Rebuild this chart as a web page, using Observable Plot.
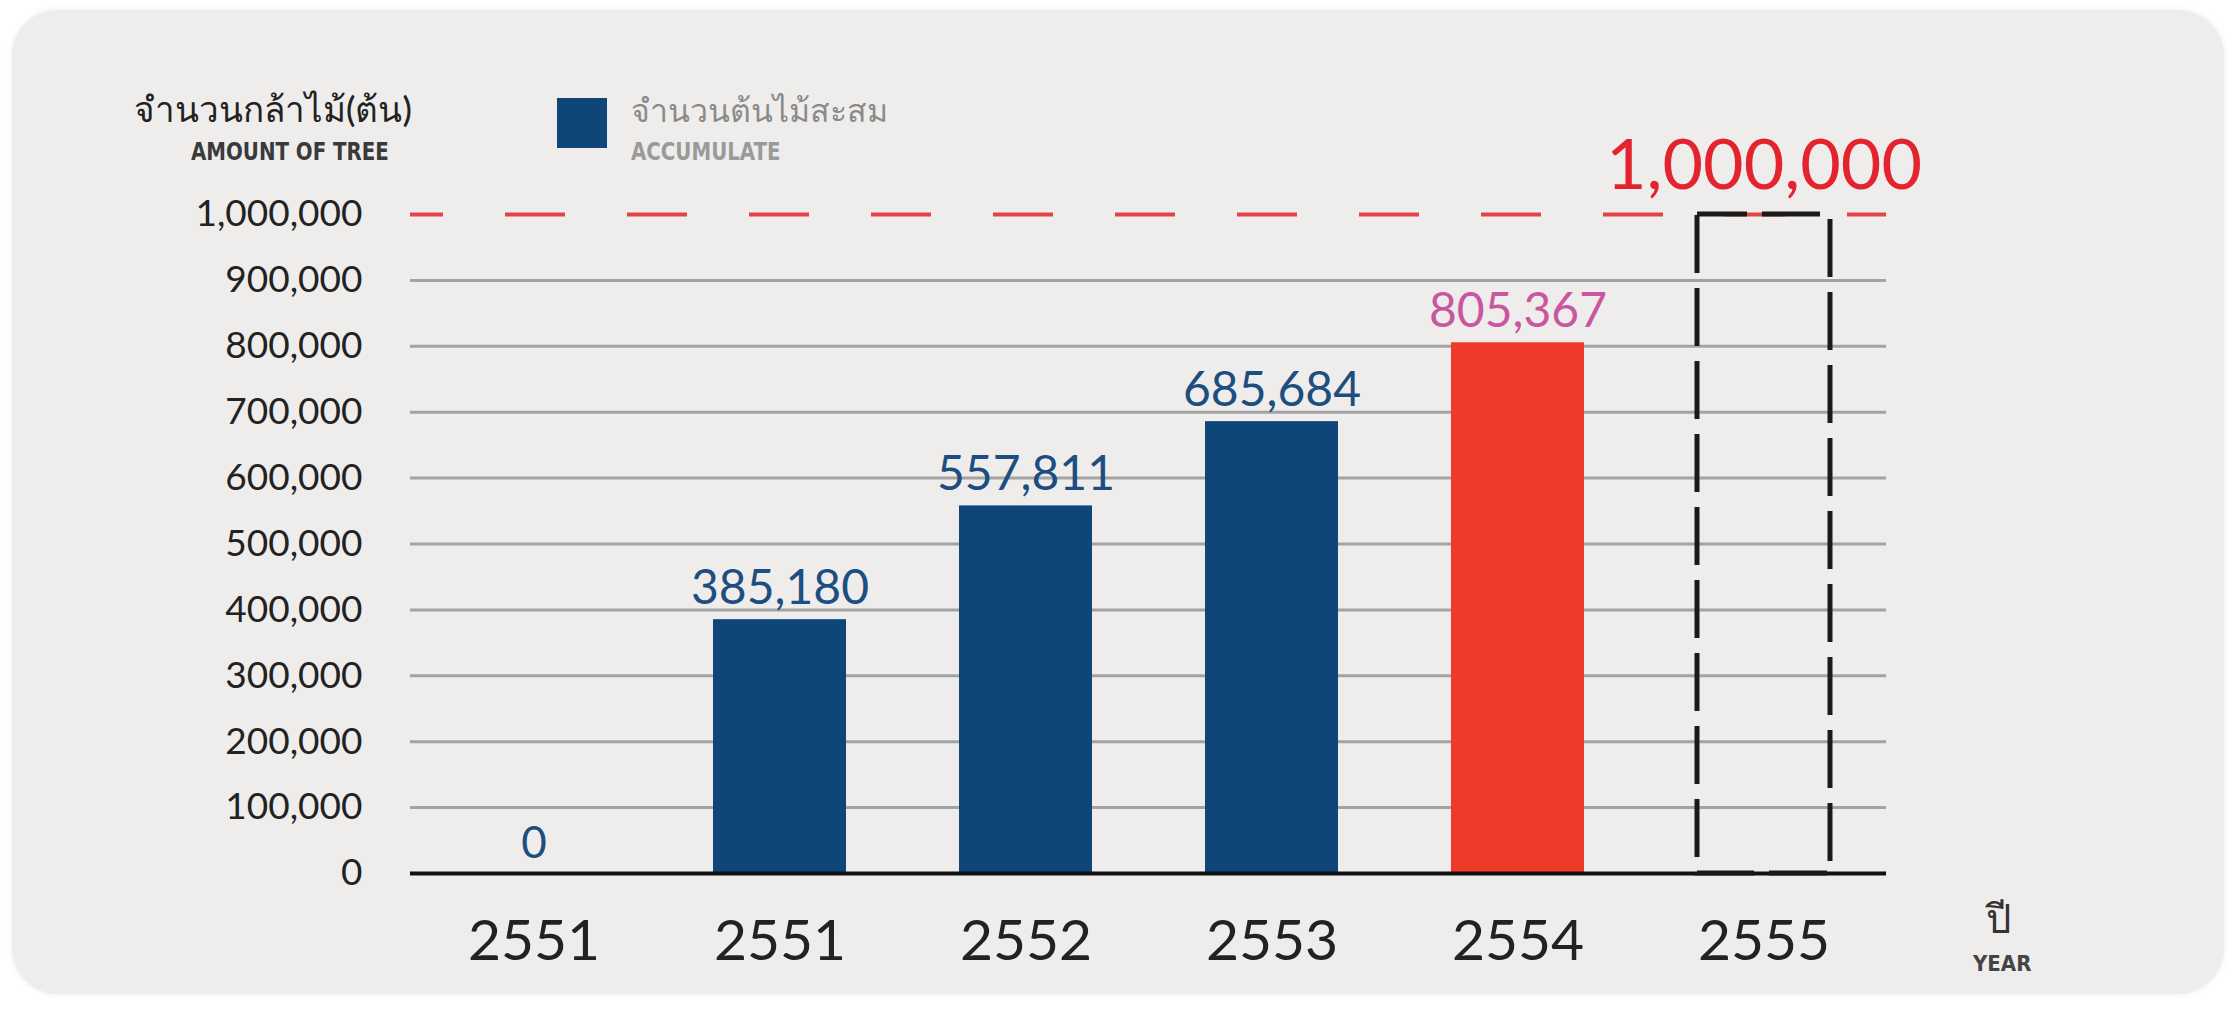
<!DOCTYPE html>
<html><head><meta charset="utf-8">
<script src="https://cdn.jsdelivr.net/npm/d3@7"></script>
<script src="https://cdn.jsdelivr.net/npm/@observablehq/plot@0.6"></script>
<style>
body{margin:0;background:#fff;width:2237px;height:1010px;overflow:hidden;position:relative;font-family:Lato,"Noto Sans",sans-serif;}
#panel{position:absolute;left:12px;top:10px;width:2212px;height:984px;background:#efedeb;border-radius:46px;box-shadow:0 0 6px rgba(0,0,0,0.08);}
#chart{position:absolute;left:0;top:0;}
.t{position:absolute;white-space:nowrap;line-height:1;}
.cond{font-family:"Liberation Sans Narrow","DejaVu Sans Condensed","Roboto",sans-serif;font-weight:bold;transform-origin:0 0;}
</style></head><body>
<div id="panel"></div>
<div id="chart"></div>
<div class="t" style="left:134px;top:91px;font-size:35px;color:#222;font-weight:500;">จำนวนกล้าไม้(ต้น)</div>
<div class="t cond" style="left:191px;top:139px;font-size:25px;color:#3a3a3a;transform:scaleX(0.88);">AMOUNT OF TREE</div>
<div class="t" style="left:557px;top:98px;width:50px;height:50px;background:#0e4679;"></div>
<div class="t" style="left:631px;top:94px;font-size:32px;color:#8a8a8a;">จำนวนต้นไม้สะสม</div>
<div class="t cond" style="left:631px;top:139px;font-size:25px;color:#9a9a9a;transform:scaleX(0.88);">ACCUMULATE</div>
<div class="t" style="left:1986px;top:898px;font-size:40px;color:#333;">ปี</div>
<div class="t cond" style="left:1973px;top:953px;font-size:22px;color:#444;">YEAR</div>
<script>
const yearLabels = ["2551", "2551", "2552", "2553", "2554", "2555"];
const values = [0, 385180, 557811, 685684, 805367, null];
const target = 1000000;
const targetLabel = "1,000,000";
const yTicks = [0, 100000, 200000, 300000, 400000, 500000, 600000, 700000, 800000, 900000, 1000000];
const highlightIndex = 4;
const targetIndex = 5;

const rows = yearLabels.map((label, i) => ({i, label, value: values[i]}));
const fmt = d3.format(",");
const navy = "#0e4679", red = "#ef3a2a";

const chart = Plot.plot({
  width: 2237,
  height: 1010,
  marginLeft: 410,
  marginRight: 351,
  marginTop: 214,
  marginBottom: 137,
  style: {background: "transparent", fontFamily: "Lato, 'Noto Sans', sans-serif", color: "#222"},
  x: {domain: d3.range(yearLabels.length), paddingInner: 0.46, paddingOuter: 0.23},
  y: {domain: [0, target]},
  marks: [
    Plot.ruleY(yTicks.filter(v => v > 0 && v < target), {stroke: "#a3a3a3", strokeWidth: 3}),
    Plot.barY(rows.filter(d => d.value > 0), {x: "i", y: "value", fill: d => d.i === highlightIndex ? red : navy}),
    Plot.ruleY([0], {stroke: "#111", strokeWidth: 4}),
    Plot.ruleY([target], {stroke: "#e1454b", strokeWidth: 4, strokeDasharray: "60,62", strokeDashoffset: 27}),
    Plot.barY(rows.filter(d => d.i === targetIndex), {x: "i", y: () => target, fill: "none", stroke: "#1a1a1a", strokeWidth: 5, strokeDasharray: "58,15", strokeDashoffset: 8}),
    Plot.text(rows.filter(d => d.value != null), {
      x: "i", y: "value", text: d => fmt(d.value), lineAnchor: "bottom", dy: -16,
      fontSize: d => d.value === 0 ? 44 : 48,
      fill: d => d.i === highlightIndex ? "#c9579f" : "#1d4e80"
    }),
    Plot.text(rows.filter(d => d.i === targetIndex), {x: "i", y: () => target, text: () => targetLabel, lineAnchor: "bottom", dy: -26, fontSize: 70, fill: "#e3242f"}),
    Plot.axisY({ticks: yTicks, tickSize: 0, tickPadding: 48, tickFormat: fmt, fontSize: 37, label: null}),
    Plot.axisX({tickSize: 0, tickPadding: 46, tickFormat: i => yearLabels[i], fontSize: 57, label: null})
  ]
});
document.getElementById("chart").appendChild(chart);
</script>
</body></html>
